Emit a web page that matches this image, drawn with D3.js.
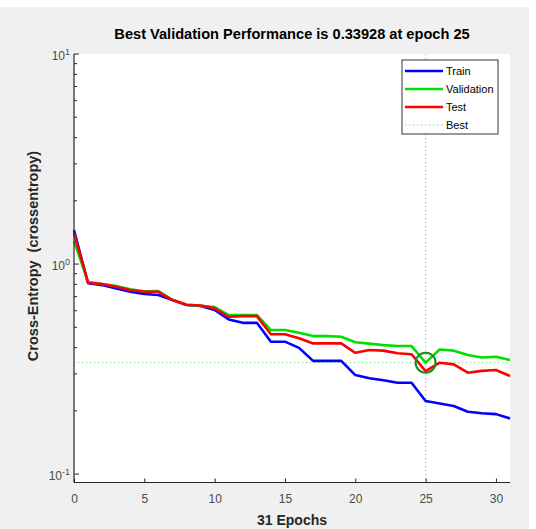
<!DOCTYPE html>
<html><head><meta charset="utf-8">
<script src="https://cdn.jsdelivr.net/npm/d3@7"></script>
<style>
html,body{margin:0;padding:0;background:#fff;}
svg{display:block;}
text{font-family:"Liberation Sans",Arial,Helvetica,sans-serif;white-space:pre;}
</style></head>
<body>
<script>
const epochs = [0,1,2,3,4,5,6,7,8,9,10,11,12,13,14,15,16,17,18,19,20,21,22,23,24,25,26,27,28,29,30,31];
const train = [1.45,0.81,0.794,0.766,0.738,0.72,0.712,0.674,0.638,0.631,0.604,0.545,0.525,0.525,0.427,0.427,0.399,0.346,0.346,0.346,0.296,0.286,0.280,0.272,0.272,0.223,0.217,0.211,0.198,0.195,0.193,0.184];
const validation = [1.29,0.82,0.803,0.786,0.758,0.741,0.744,0.676,0.640,0.633,0.624,0.572,0.572,0.572,0.485,0.485,0.471,0.454,0.454,0.451,0.424,0.418,0.411,0.407,0.407,0.33928,0.392,0.387,0.369,0.359,0.362,0.349];
const test = [1.405,0.815,0.803,0.780,0.752,0.738,0.738,0.674,0.640,0.635,0.615,0.561,0.565,0.565,0.463,0.463,0.443,0.419,0.419,0.419,0.378,0.390,0.387,0.376,0.372,0.309,0.339,0.333,0.304,0.310,0.313,0.293];
const bestEpoch = 25;
const bestValue = 0.33928;
const xTicks = [0,5,10,15,20,25,30];
const yTicks = [0.1,1,10];
const yTickExp = ["-1","0","1"];
const legendNames = ["Train","Validation","Test","Best"];
const titleText = "Best Validation Performance is 0.33928 at epoch 25";
const xLabelText = "31 Epochs";
const yLabelText = "Cross-Entropy  (crossentropy)";

const W=536,H=529;
const L=74,R=510,T=54,B=482.5;
const svg=d3.select("body").append("svg").attr("width",W).attr("height",H);
svg.append("rect").attr("width",W).attr("height",H).attr("fill","#fff");
svg.append("rect").attr("x",0).attr("y",7).attr("width",529).attr("height",H-7).attr("fill","#f0f0f0");

const x=d3.scaleLinear().domain([0,31]).range([L,R]);
const y=d3.scaleLog().domain([Math.pow(10,-1.04),10]).range([B,T]);

svg.append("rect").attr("x",L).attr("y",T).attr("width",R-L).attr("height",B-T).attr("fill","#fff");

// best lines
const bestC="#77cc77";
svg.append("line").attr("x1",x(bestEpoch)).attr("x2",x(bestEpoch)).attr("y1",T).attr("y2",B)
  .attr("stroke",bestC).attr("stroke-width",1).attr("stroke-dasharray","1.2,2.8");
svg.append("line").attr("x1",L).attr("x2",R).attr("y1",y(bestValue)).attr("y2",y(bestValue))
  .attr("stroke",bestC).attr("stroke-width",1).attr("stroke-dasharray","1.2,2.8");

const line=d3.line().x((d,i)=>x(epochs[i])).y(d=>y(d));
const series=[[train,"#0000ff"],[validation,"#00e000"],[test,"#ff0000"]];
series.forEach(([data,c])=>{
  svg.append("path").datum(data).attr("d",line).attr("fill","none").attr("stroke",c)
    .attr("stroke-width",2.6).attr("stroke-linejoin","round");
});

svg.append("circle").attr("cx",x(bestEpoch)).attr("cy",y(bestValue)).attr("r",10)
  .attr("fill","none").attr("stroke","#1e8a1e").attr("stroke-width",2);

// axes
const axC="#262626";
svg.append("line").attr("x1",L).attr("x2",R).attr("y1",B).attr("y2",B).attr("stroke",axC).attr("stroke-width",1.2);
svg.append("line").attr("x1",L).attr("x2",L).attr("y1",T).attr("y2",B).attr("stroke",axC).attr("stroke-width",1.2);

const xAxis=svg.append("g").attr("transform",`translate(0,${B})`)
  .call(d3.axisBottom(x).tickValues(xTicks).tickSize(-4).tickPadding(12).tickFormat(d3.format("d")));
xAxis.select(".domain").remove();
xAxis.selectAll("line").attr("stroke",axC);
xAxis.selectAll("text").attr("font-size",12).attr("fill","#4a4a4a")
  .attr("font-family","'Liberation Sans',Arial,sans-serif");

// y ticks
const minor=[];
[0.1,1].forEach(dec=>{for(let k=2;k<=9;k++)minor.push(dec*k);});
svg.append("g").selectAll("line").data(minor.filter(v=>y(v)>=T&&y(v)<=B)).join("line")
  .attr("x1",L).attr("x2",L+3).attr("y1",d=>y(d)).attr("y2",d=>y(d)).attr("stroke",axC);
const yg=svg.append("g");
yg.selectAll("line").data(yTicks).join("line")
  .attr("x1",L).attr("x2",L+5).attr("y1",d=>y(d)).attr("y2",d=>y(d)).attr("stroke",axC);
const yt=yg.selectAll("text").data(yTicks).join("text")
  .attr("x",L-4).attr("y",d=>y(d)+6).attr("text-anchor","end").attr("font-size",12).attr("fill","#4a4a4a");
yt.append("tspan").text("10");
yt.append("tspan").attr("dy",-5).attr("font-size",9).text((d,i)=>yTickExp[i]);

// titles
svg.append("text").attr("x",(L+R)/2).attr("y",39).attr("text-anchor","middle")
  .attr("font-size",14.6).attr("font-weight","bold").attr("fill","#000").text(titleText);
svg.append("text").attr("x",(L+R)/2).attr("y",525).attr("text-anchor","middle")
  .attr("font-size",14).attr("font-weight","bold").attr("fill","#262626").text(xLabelText);
svg.append("text").attr("transform",`translate(38,256) rotate(-90)`).attr("text-anchor","middle")
  .attr("font-size",14.5).attr("font-weight","bold").attr("fill","#262626").text(yLabelText);

// legend
const lg=svg.append("g");
lg.append("rect").attr("x",402).attr("y",60).attr("width",96).attr("height",74)
  .attr("fill","#fff").attr("stroke","#333").attr("stroke-width",1);
const legC=["#0000ff","#00e000","#ff0000",bestC];
legendNames.forEach((n,i)=>{
  const yy=71+i*18;
  lg.append("line").attr("x1",405).attr("x2",443).attr("y1",yy).attr("y2",yy)
    .attr("stroke",legC[i]).attr("stroke-width",i<3?2.6:1).attr("stroke-dasharray",i<3?null:"1.2,2.8");
  lg.append("text").attr("x",446).attr("y",yy+4).attr("font-size",11).attr("fill","#000").text(n);
});
</script>
</body></html>
